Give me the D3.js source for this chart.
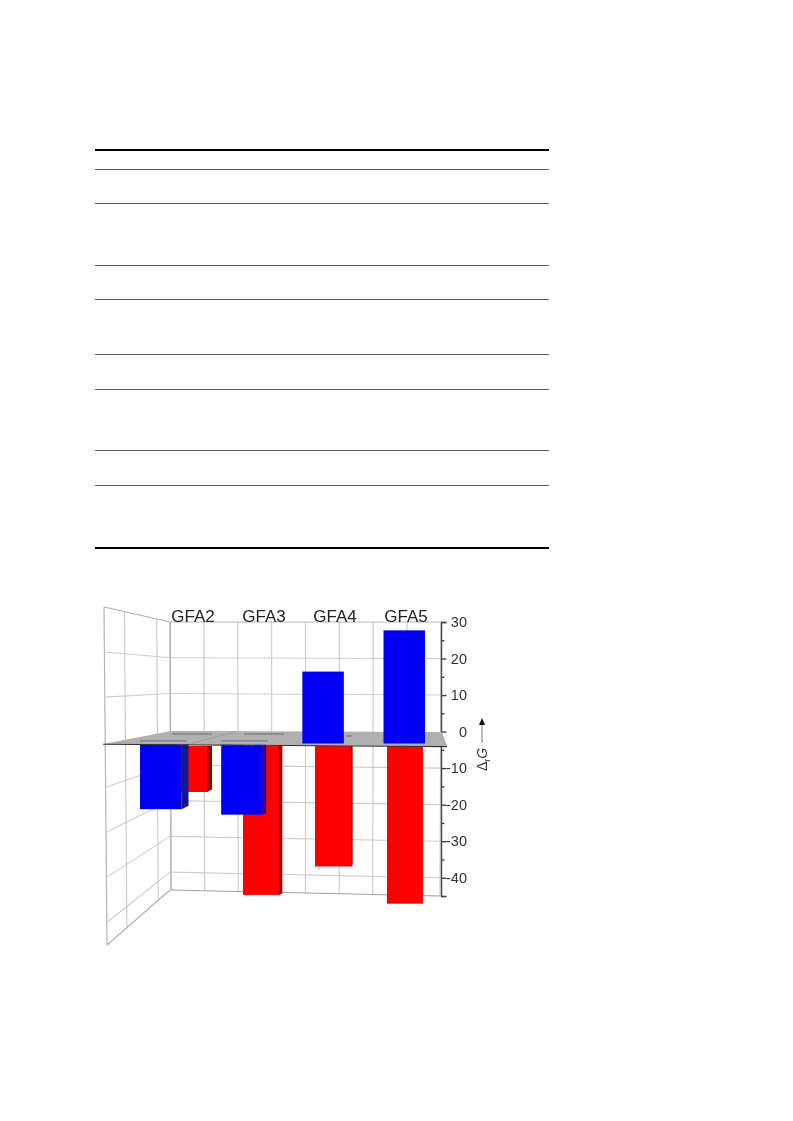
<!DOCTYPE html>
<html><head><meta charset="utf-8">
<script src="https://cdn.jsdelivr.net/npm/d3@7"></script>
<style>html,body{margin:0;background:#fff}svg{display:block}text{font-family:"Liberation Sans",Arial,sans-serif}</style>
</head><body><div id="c"></div>
<script>
const categories = ["GFA2","GFA3","GFA4","GFA5"];
const blueValues = [-18, -19.5, 19.7, 31];
const redValues = [-12.6, -40.8, -33, -43.2];
const majorTicks = [30,20,10,0,-10,-20,-30,-40];
const minorTicks = [25,15,5,-5,-15,-25,-35,-45];
const ruleYs = [169,203,265,299,354,389,450,485];
const thickRuleYs = [150,548];

const svg = d3.select("#c").append("svg").attr("width",793).attr("height",1121);
const defs = svg.append("defs");
defs.append("filter").attr("id","soft").append("feGaussianBlur").attr("stdDeviation",0.4);

// table rules
const tbl = svg.append("g");
tbl.selectAll("line.t").data(ruleYs).join("line").attr("x1",95).attr("x2",549).attr("y1",d=>d+0.5).attr("y2",d=>d+0.5).attr("stroke","#5c5c5c").attr("stroke-width",1);
tbl.selectAll("line.k").data(thickRuleYs).join("line").attr("x1",95).attr("x2",549).attr("y1",d=>d).attr("y2",d=>d).attr("stroke","#000").attr("stroke-width",2);

const g = svg.append("g").attr("filter","url(#soft)");
const gridC = "#cdcdcd";
const yBackR = d3.scaleLinear([30,-45],[622,896]);
const yBackL = d3.scaleLinear([30,-45],[622,890]);
const yFront = d3.scaleLinear([30,-45],[607,945]);
const xTop = d3.scaleLinear([0,8],[170,441]);
const xBot = d3.scaleLinear([0,8],[171,440]);
const line = (x1,y1,x2,y2,c=gridC,w=1.1)=>g.append("line").attr("x1",x1).attr("y1",y1).attr("x2",x2).attr("y2",y2).attr("stroke",c).attr("stroke-width",w);

// back wall
d3.range(0,9).forEach(i=>line(xTop(i),yBackL(30),xBot(i),yBackL(-45)+(yBackR(-45)-yBackL(-45))*i/8, i==0?"#b5b5b5":gridC, 1.2));
[30,20,10,-10,-20,-30,-40].forEach(v=>line(xTop(0),yBackL(v),xTop(8),yBackR(v), v==30?"#b5b5b5":gridC));
line(xBot(0),yBackL(-45),xBot(8),yBackR(-45),"#a0a0a0");
// left wall
const wallX = d3.scaleLinear([0,1],[104,170]);
const wallXb = d3.scaleLinear([0,1],[107,171]);
[0,0.31,0.8,1].forEach(t=>line(wallX(t),yFront(30)+(yBackL(30)-yFront(30))*t,wallXb(t),yFront(-45)+(yBackL(-45)-yFront(-45))*t, (t==0||t==1)?"#b5b5b5":gridC,1.2));
[30,20,10,-10,-20,-30,-40,-45].forEach(v=>line(104+3*(30-v)/75,yFront(v),170,yBackL(v),(v==30||v==-45)?"#b0b0b0":gridC));

// scales for the bars
const unit = 3.65;
const xBlue = d3.scaleLinear([0,3],[140,383.5]);
const xRed = d3.scaleLinear([0,3],[171,387]);
const blueW = 41.5, redW = 36;
const yBlue = d3.scaleLinear([0,30],[743.5,743.5-30*unit]);
const yRed = d3.scaleLinear([0,-45],[746,746+45*unit]);
const sideBlue = d3.scaleLinear([0,2],[7,0]).clamp(true);
const sideRed = d3.scaleLinear([0,3],[5,0]).clamp(true);

function bar(parent,x,w,y0,y1,side,fill,sideFill){
  if(side>0) parent.append("polygon").attr("fill",sideFill)
    .attr("points",[[x+w,y0],[x+w+side,y0],[x+w+side,y1-side*0.5],[x+w,y1]].join(" "));
  parent.append("rect").attr("x",x).attr("y",Math.min(y0,y1)).attr("width",w).attr("height",Math.abs(y1-y0)).attr("fill",fill);
}
const under = g.append("g");
redValues.forEach((v,i)=>bar(under,xRed(i),redW,yRed(0),yRed(v),sideRed(i),"#ff0000","#a00000"));
blueValues.forEach((v,i)=>{ if(v<0) bar(under,xBlue(i),blueW,yBlue(0),yBlue(v),sideBlue(i),"#0000f5","#14148c"); });

// y axis
const yAxis = d3.scaleLinear([30,-45],[622,896]);
const ax = g.append("g").attr("transform","translate(441,0)").attr("color","#444");
const major = d3.axisRight(yAxis).tickValues(majorTicks).tickSize(5.5).tickPadding(5).tickFormat(d=>String(d));
ax.call(major);
const minor = ax.append("g").call(d3.axisRight(yAxis).tickValues(minorTicks).tickSize(3.5).tickFormat(""));
minor.select(".domain").remove();
ax.selectAll("path,line").attr("stroke-width",1.4);
ax.selectAll("text").attr("font-size",14.5).attr("fill","#333").attr("text-anchor","end").attr("x",26);

// plane
g.append("polygon").attr("points","171,731 442,732 447,746 103,744").attr("fill","#b0b0b0");
line(103,744.3,447,746.6,"#333",1.1);
line(236,731.5,190,744,"#989898",0.8);line(330,732,300,745,"#989898",0.8);
// bar footprints seen through the plane
const foot = (x,w,y)=>g.append("rect").attr("x",x).attr("y",y).attr("width",w).attr("height",1.8).attr("fill","#8c8c8c");
redValues.forEach((v,i)=>{ if(i<2) foot(xRed(i)+1,redW+4,733); });
blueValues.forEach((v,i)=>{ if(v<0) foot(xBlue(i),blueW+5,740); });
foot(346,6,735);

// positive blue bars
blueValues.forEach((v,i)=>{ if(v>0) bar(g,xBlue(i),blueW,yBlue(0),yBlue(v),sideBlue(i),"#0000f5","#14148c"); });

// category labels
const labelX = d3.scaleLinear([0,3],[193,406]);
g.selectAll("text.cat").data(categories).join("text").attr("class","cat").attr("x",(d,i)=>labelX(i)).attr("y",622).attr("text-anchor","middle").attr("font-size",17).attr("fill","#222").text(d=>d);

// axis title
const t = g.append("g").attr("transform","translate(487,771) rotate(-90)");
const tt = t.append("text").attr("font-size",14).attr("fill","#333");
tt.append("tspan").text("Δ");
tt.append("tspan").attr("font-size",9).attr("dy",3).text("r");
tt.append("tspan").attr("dy",-3).attr("font-style","italic").text("G");
t.append("line").attr("x1",28).attr("x2",47).attr("y1",-5).attr("y2",-5).attr("stroke","#777").attr("stroke-width",1);
t.append("polygon").attr("points","46,-8 53,-5 46,-2").attr("fill","#111");
</script></body></html>
